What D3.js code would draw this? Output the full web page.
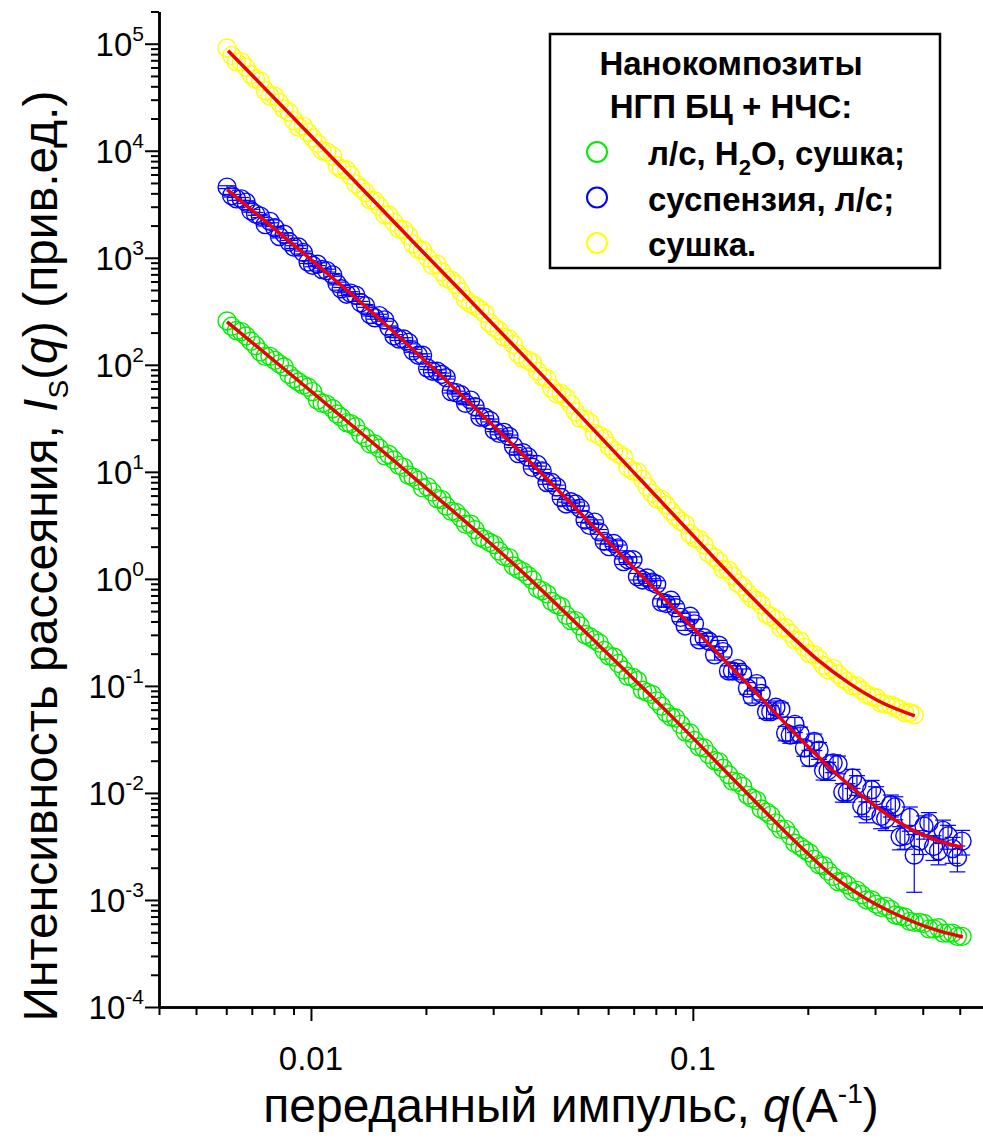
<html><head>
<title>SAXS - nanocomposites</title>
<script src="https://d3js.org/d3.v7.min.js"></script>
<style>
  body { margin: 0; background: #fff; }
  text { font-family: Arial, "Liberation Sans", sans-serif; fill: #000; }
  .axis path, .axis line { stroke: #000; }
  .axis path { stroke-width: 2.5px; }
  .axis line { stroke-width: 2px; }
</style>
</head>
<body>
<svg id="chart" width="983" height="1144"></svg>
<script>

// q values (1/A). The markers sit very densely, so the
// points are kept in two lists: qA and the points lying in between, qB.
// The yellow run stops at 0.38.
const qA = [0.00603,0.00638,0.00676,0.00716,0.00759,0.00804,0.00851,0.00902,0.00955,0.0101,
  0.0107,0.0114,0.0120,0.0127,0.0135,0.0143,0.0151,0.0160,0.0170,0.0180,
  0.0191,0.0202,0.0214,0.0226,0.0240,0.0254,0.0269,0.0285,0.0302,0.0320,
  0.0339,0.0359,0.0380,0.0403,0.0427,0.0452,0.0479,0.0507,0.0537,0.0569,
  0.0603,0.0638,0.0676,0.0716,0.0759,0.0804,0.0851,0.0902,0.0955,0.101,
  0.107,0.114,0.120,0.127,0.135,0.143,0.151,0.160,0.170,0.180,
  0.191,0.202,0.214,0.226,0.240,0.254,0.269,0.285,0.302,0.320,
  0.339,0.359,0.380,0.403,0.427,0.452,0.479,0.507];
const qB = [0.00620,0.00657,0.00696,0.00737,0.00781,0.00827,0.00876,0.00928,0.00983,0.0104,
  0.0110,0.0117,0.0124,0.0131,0.0139,0.0147,0.0156,0.0165,0.0175,0.0185,
  0.0196,0.0208,0.0220,0.0233,0.0247,0.0262,0.0277,0.0294,0.0311,0.0330,
  0.0349,0.0370,0.0392,0.0415,0.0440,0.0466,0.0493,0.0522,0.0553,0.0586,
  0.0621,0.0658,0.0697,0.0738,0.0782,0.0828,0.0877,0.0929,0.0984,0.104,
  0.110,0.117,0.124,0.131,0.139,0.147,0.156,0.165,0.175,0.185,
  0.196,0.208,0.220,0.233,0.247,0.262,0.277,0.294,0.311,0.330,
  0.349,0.370,0.392,0.415,0.440,0.466,0.493];

// сушка (yellow)
const yellowA = [91200,67600,60300,46800,36300,32400,24500,19100,17000,13200,
  10000,8910,6760,5890,4470,3470,3020,2510,1860,1620,
  1200,1000,871,646,562,407,355,302,224,182,
  155,115,105,77.6,60.3,53.7,42.7,31.6,28.8,21.9,
  17.4,14.8,11.0,10.0,7.24,5.62,4.90,3.80,3.24,2.40,
  2.09,1.58,1.23,1.07,0.851,0.661,0.575,0.447,0.347,0.309,
  0.263,0.200,0.178,0.141,0.129,0.110,0.100,0.0832,0.0776,0.0676,
  0.0631,0.0562,0.0537];
const yellowB = [77600,67600,51300,44700,32400,28200,22900,16600,14800,11700,
  9770,7240,6610,4900,4070,3390,2510,2140,1820,1350,
  1170,851,741,617,479,372,331,245,209,174,
  126,110,87.1,74.1,53.7,49.0,36.3,30.9,22.9,20.4,
  15.8,13.8,10.2,8.51,6.31,5.50,4.27,3.47,2.63,2.34,
  1.74,1.45,1.20,0.912,0.741,0.631,0.468,0.417,0.347,0.269,
  0.229,0.195,0.155,0.145,0.117,0.100,0.0912,0.0794,0.0692,0.0661,
  0.0603,0.0562];

// суспензия, л/с (blue) and its error bars
const blueA = [4570,3550,3310,2570,2040,1910,1660,1260,1120,851,
  776,692,513,468,380,295,288,224,174,162,
  123,93.3,87.1,75.9,55.0,43.7,40.7,32.4,24.5,23.4,
  17.4,15.1,11.0,10.2,7.94,5.75,5.25,4.57,3.16,2.75,
  2.00,1.95,1.51,1.05,1.02,0.891,0.589,0.537,0.363,0.380,
  0.282,0.195,0.209,0.138,0.129,0.0794,0.0851,0.0575,0.0603,0.0347,
  0.0355,0.0214,0.0251,0.0162,0.0186,0.0102,0.0120,0.00676,0.00933,0.00575,
  0.00741,0.00398,0.00263,0.00490,0.00316,0.00447,0.00302,0.00355];
const blueErrA = [140,110,99,77,61,57,50,38,34,26,
  23,21,15,14,11,8.9,8.6,6.7,5.2,4.9,
  3.7,2.8,2.6,2.3,1.7,1.3,1.2,1.0,0.74,0.70,
  0.56,0.48,0.37,0.35,0.29,0.23,0.21,0.23,0.16,0.14,
  0.12,0.12,0.091,0.074,0.071,0.071,0.047,0.048,0.033,0.038,
  0.028,0.021,0.023,0.017,0.015,0.0103,0.0111,0.0081,0.0090,0.0056,
  0.0057,0.0036,0.0045,0.0031,0.0035,0.0020,0.0025,0.0015,0.0021,0.0013,
  0.0018,0.0010,0.00145,0.0012,0.00082,0.0011,0.00082,0.00092];
const blueB = [3800,3550,2750,2450,2190,1580,1410,1260,912,871,
  759,575,457,447,355,275,263,186,174,135,
  123,87.1,81.3,56.2,52.5,46.8,32.4,30.2,22.9,21.4,
  14.8,13.8,11.7,7.94,7.24,5.01,5.00,3.55,3.39,2.24,
  2.14,1.45,1.51,0.977,0.933,0.603,0.631,0.437,0.447,0.269,
  0.263,0.240,0.138,0.145,0.0955,0.105,0.0575,0.0631,0.0363,0.0437,
  0.0263,0.0302,0.0162,0.0191,0.0102,0.0138,0.00759,0.0107,0.00603,0.00776,
  0.00389,0.00589,0.00355,0.00525,0.00288,0.00398,0.00251];
const blueErrB = [110,107,83,74,66,47,42,38,27,26,
  23,17,14,13,11,8.3,7.9,5.6,5.2,4.1,
  3.7,2.6,2.4,1.7,1.6,1.4,0.97,0.91,0.69,0.64,
  0.47,0.44,0.40,0.29,0.27,0.20,0.22,0.18,0.17,0.12,
  0.13,0.087,0.098,0.068,0.070,0.048,0.054,0.039,0.042,0.027,
  0.028,0.026,0.016,0.017,0.012,0.014,0.0078,0.0091,0.0056,0.0070,
  0.0043,0.0053,0.0030,0.0036,0.0020,0.0028,0.0016,0.0024,0.0014,0.0018,
  0.00095,0.0015,0.00089,0.0013,0.00075,0.0010,0.00068];

// л/с, H2O, сушка (green)
const greenA = [257,209,186,151,120,110,95.5,74.1,64.6,56.2,
  43.7,38.9,32.4,28.2,22.4,18.2,16.6,14.5,11.5,9.33,
  8.32,7.24,5.62,4.79,4.17,3.24,2.88,2.34,2.09,1.62,
  1.32,1.17,0.977,0.776,0.617,0.550,0.407,0.363,0.288,0.251,
  0.191,0.162,0.123,0.112,0.0871,0.0724,0.0562,0.0501,0.0372,0.0309,
  0.0263,0.0200,0.0170,0.0129,0.0115,0.00891,0.00708,0.00617,0.00457,0.00398,
  0.00316,0.00275,0.00214,0.00186,0.00148,0.00138,0.00123,0.00100,0.000912,0.000871,
  0.000724,0.000692,0.000617,0.000603,0.000537,0.000490,0.000490,0.000457];
const greenB = [229,204,166,132,120,102,81.3,69.2,61.7,46.8,
  42.7,34.7,28.8,26.3,20.9,18.2,14.1,12.9,11.0,8.91,
  7.08,6.46,5.50,4.27,3.72,3.24,2.45,2.19,1.82,1.58,
  1.23,1.07,0.813,0.724,0.575,0.457,0.407,0.302,0.269,0.214,
  0.186,0.141,0.120,0.0912,0.0832,0.0646,0.0513,0.0437,0.0363,0.0269,
  0.0229,0.0195,0.0148,0.0126,0.00955,0.00851,0.00661,0.00525,0.00457,0.00339,
  0.00295,0.00240,0.00209,0.00166,0.00148,0.00120,0.00112,0.00100,0.000851,0.000813,
  0.000708,0.000631,0.000617,0.000537,0.000550,0.000490,0.000457];

// red fit curves (points picked along each red line)
const yellowFitQ = [0.00607,0.01143,0.01928,0.03524,0.07261,0.1156,0.1426,0.1722,0.2113,0.2576,0.3141,0.3811];
const yellowFitI = [86100,8414,1213,132.1,8.61,1.479,0.676,0.347,0.178,0.105,0.0692,0.0525];
const blueFitQ = [0.00603,0.01489,0.03524,0.06966,0.1042,0.1563,0.1905,0.2323,0.2851,0.3483,0.4246,0.5093];
const blueFitI = [4330,281,15.4,1.294,0.302,0.0676,0.0324,0.0162,0.00871,0.00525,0.00372,0.00309];
const greenFitQ = [0.00603,0.01849,0.03459,0.05715,0.08551,0.1274,0.1905,0.2323,0.2851,0.3483,0.4246,0.5093];
const greenFitI = [252,8.97,1.294,0.234,0.0575,0.01352,0.00320,0.001675,0.001021,0.000708,0.000536,0.000451];

// axis labels
const xLabels = ["0.01", "0.1"];
const yExponents = [-4,-3,-2,-1,0,1,2,3,4,5];

const legendTitle = ["Нанокомпозиты", "НГП БЦ + НЧС:"];

// ------------------------------------------------------------

const svg = d3.select("svg#chart");

const xScale = d3.scaleLog().domain([0.004, 0.6]).range([159, 990]);
const yScale = d3.scaleLog().domain([1e-4, 2e5]).range([1007, 11.5]);

const x0 = xScale.range()[0];
const y0 = yScale.range()[0];

// points: both lists of a series go together
const toPts = (qs, vals, errs) => vals.map((v, i) => ({q: qs[i], I: v, e: errs ? errs[i] : 0}));
const yellowPts = toPts(qA, yellowA).concat(toPts(qB, yellowB));
const bluePts = toPts(qA, blueA, blueErrA).concat(toPts(qB, blueB, blueErrB));
const greenPts = toPts(qA, greenA).concat(toPts(qB, greenB));

const plot = svg.append("g");

// blue error bars
const capW = 8;
bluePts.forEach(d => {
  const top = yScale(d.I + d.e);
  const bot = yScale(Math.max(d.I - d.e, 1e-5));
  const cx = xScale(d.q);
  const g = plot.append("g").attr("stroke", "#0000ff").attr("stroke-width", 1.2);
  g.append("line").attr("x1", cx).attr("x2", cx).attr("y1", top).attr("y2", bot);
  g.append("line").attr("x1", cx - capW).attr("x2", cx + capW).attr("y1", top).attr("y2", top);
  g.append("line").attr("x1", cx - capW).attr("x2", cx + capW).attr("y1", bot).attr("y2", bot);
});

function drawCircles(pts, color) {
  plot.append("g").selectAll("circle")
    .data(pts).join("circle")
    .attr("cx", d => xScale(d.q))
    .attr("cy", d => yScale(d.I))
    .attr("r", 9)
    .attr("fill", "none")
    .attr("stroke", color)
    .attr("stroke-width", 1.4);
}
drawCircles(greenPts, "#00ee00");
drawCircles(bluePts, "#0000ff");
drawCircles(yellowPts, "#ffff00");

// fit lines on top
const fitLine = d3.line()
  .x(d => xScale(d[0]))
  .y(d => yScale(d[1]))
  .curve(d3.curveMonotoneX);

[[yellowFitQ, yellowFitI], [blueFitQ, blueFitI], [greenFitQ, greenFitI]].forEach(f => {
  plot.append("path")
    .attr("d", fitLine(f[0].map((q, i) => [q, f[1][i]])))
    .attr("fill", "none")
    .attr("stroke", "#f00000")
    .attr("stroke-width", 3.5);
});

// ---- axes: minor ticks, then major ticks (labels are added by hand) ----
const isMajor = v => Math.abs(Math.log10(v) - Math.round(Math.log10(v))) < 1e-6;

const yTicks = yScale.ticks();
svg.append("g").attr("class", "axis").attr("transform", "translate(" + x0 + ",0)")
  .call(d3.axisLeft(yScale).tickValues(yTicks.filter(v => !isMajor(v))).tickSize(8).tickSizeOuter(0).tickFormat(""));
svg.append("g").attr("class", "axis").attr("transform", "translate(" + x0 + ",0)")
  .call(d3.axisLeft(yScale).tickValues(yTicks.filter(isMajor)).tickSize(14).tickSizeOuter(0).tickFormat(""));

const xTicks = xScale.ticks();
svg.append("g").attr("class", "axis").attr("transform", "translate(0," + y0 + ")")
  .call(d3.axisBottom(xScale).tickValues(xTicks.filter(v => !isMajor(v))).tickSize(8).tickSizeOuter(0).tickFormat(""));
svg.append("g").attr("class", "axis").attr("transform", "translate(0," + y0 + ")")
  .call(d3.axisBottom(xScale).tickValues(xTicks.filter(isMajor)).tickSize(14).tickSizeOuter(0).tickFormat(""));

// y tick labels 10^n
yExponents.forEach(p => {
  const t = svg.append("text")
    .attr("x", 144)
    .attr("y", yScale(Math.pow(10, p)) + 12)
    .attr("text-anchor", "end")
    .style("font-size", "33px");
  t.append("tspan").text("10");
  t.append("tspan").attr("dy", -15).style("font-size", "21px").text(p);
});

// x tick labels
xLabels.forEach(v => {
  svg.append("text")
    .attr("x", xScale(+v))
    .attr("y", 1070)
    .attr("text-anchor", "middle")
    .style("font-size", "33px")
    .text(v);
});

// axis titles
const xt = svg.append("text")
  .attr("x", 571).attr("y", 1122)
  .attr("text-anchor", "middle")
  .style("font-size", "48px");
xt.append("tspan").text("переданный импульс, ");
xt.append("tspan").style("font-style", "italic").text("q");
xt.append("tspan").text("(A");
xt.append("tspan").attr("dy", -19).style("font-size", "28px").text("-1");
xt.append("tspan").attr("dy", 19).text(")");

const yt = svg.append("text")
  .attr("transform", "translate(57,556) rotate(-90)")
  .attr("text-anchor", "middle")
  .style("font-size", "48px");
yt.append("tspan").text("Интенсивность рассеяния, ");
yt.append("tspan").style("font-style", "italic").text("I");
yt.append("tspan").attr("dy", 11).style("font-size", "28px").text("S");
yt.append("tspan").attr("dy", -11).text("(");
yt.append("tspan").style("font-style", "italic").text("q");
yt.append("tspan").text(") (прив.ед.)");

// ---- legend ----
const legend = svg.append("g");
legend.append("rect")
  .attr("x", 550).attr("y", 34).attr("width", 390).attr("height", 234)
  .attr("fill", "#fff").attr("stroke", "#000").attr("stroke-width", 2.5);

legendTitle.forEach((s, i) => {
  legend.append("text")
    .attr("x", 731).attr("y", 75 + i * 43)
    .attr("text-anchor", "middle")
    .style("font-size", "33px").style("font-weight", "bold")
    .text(s);
});

const legendItems = [
  {color: "#00ee00", parts: [["л/с, H", 0], ["2", 1], ["O, сушка;", 0]]},
  {color: "#0000ff", parts: [["суспензия, л/с;", 0]]},
  {color: "#ffff00", parts: [["сушка.", 0]]}
];
legendItems.forEach((it, i) => {
  const cy = 152 + i * 45.5;
  legend.append("circle")
    .attr("cx", 597).attr("cy", cy).attr("r", 10)
    .attr("fill", "none").attr("stroke", it.color).attr("stroke-width", 2);
  const t = legend.append("text")
    .attr("x", 648).attr("y", cy + 13)
    .style("font-size", "33px").style("font-weight", "bold");
  let shift = 0;
  it.parts.forEach(p => {
    const dy = p[1] ? 10 : -shift;
    shift = p[1] ? 10 : 0;
    t.append("tspan").attr("dy", dy).style("font-size", p[1] ? "22px" : "33px").text(p[0]);
  });
});

</script>
</body>
</html>
